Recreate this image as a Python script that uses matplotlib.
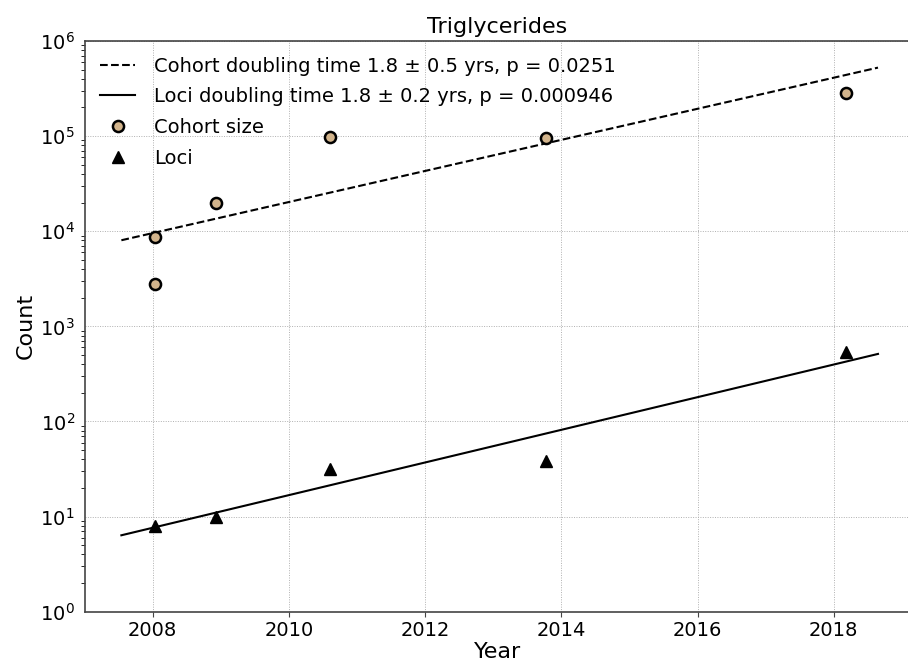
import matplotlib
matplotlib.use('Agg')
import matplotlib.pyplot as plt

# data
cohort_years = [2008.04, 2008.04, 2008.93, 2010.6, 2013.77, 2018.18]
cohort_size = [8770, 2770, 19950, 98000, 96000, 283000]
loci_years = [2008.04, 2008.93, 2010.6, 2013.77, 2018.18]
loci_count = [8, 10, 32, 38.5, 540]

# fitted trend lines (end points)
fit_years = [2007.54, 2018.65]
cohort_fit = [8040, 525000]
loci_fit = [6.36, 513]

cohort_label = 'Cohort doubling time 1.8 \u00b1 0.5 yrs, p = 0.0251'
loci_label = 'Loci doubling time 1.8 \u00b1 0.2 yrs, p = 0.000946'

fig = plt.figure(figsize=(9.08, 6.63), dpi=100)
ax = fig.add_axes([84.6 / 908, (663 - 611.7) / 663, (910 - 84.6) / 908, (611.7 - 41) / 663])

ax.plot(fit_years, cohort_fit, '--', color='black', lw=1.5, label=cohort_label)
ax.plot(fit_years, loci_fit, '-', color='black', lw=1.5, label=loci_label)
ax.plot(cohort_years, cohort_size, 'o', ms=8, mfc='tan', mec='black', mew=1.8,
        label='Cohort size')
ax.plot(loci_years, loci_count, '^', ms=8, color='black', label='Loci')

ax.set_yscale('log')
ax.set_ylim(1, 1e6)
ax.set_xlim(2007, 2019.12)
ax.set_xticks([2008, 2010, 2012, 2014, 2016, 2018])

ax.grid(True, which='major', linestyle=(0, (1, 1.5)), color='#b0b0b0', lw=0.7)
for s in ax.spines.values():
    s.set_color('#444444')
    s.set_linewidth(1.2)
ax.tick_params(axis='both', labelsize=14, color='#444444')
ax.tick_params(axis='y', which='major', length=0, pad=7)
ax.tick_params(axis='y', which='minor', length=3)

ax.set_title('Triglycerides', fontsize=16, pad=6)
ax.set_xlabel('Year', fontsize=16, labelpad=1)
ax.set_ylabel('Count', fontsize=16, labelpad=3)

ax.legend(loc='upper left', frameon=False, fontsize=14, handlelength=1.8,
          handletextpad=0.95, borderaxespad=0.4, labelspacing=0.6)

plt.savefig('out.png', dpi=100)
